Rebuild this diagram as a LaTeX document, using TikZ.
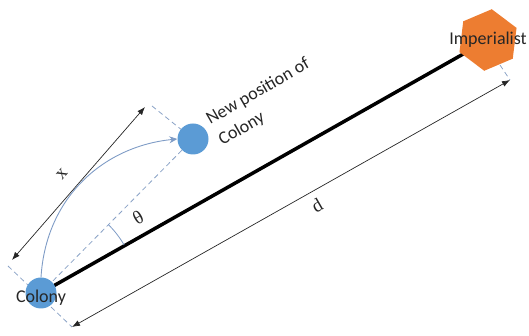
\documentclass[tikz,border=0pt]{standalone}
\usepackage{fontspec}
\setmainfont{Carlito}
\newfontfamily\serifl{Liberation Serif}
\usetikzlibrary{shapes.geometric,arrows.meta}
\definecolor{cblue}{HTML}{5B9BD5}
\definecolor{corange}{HTML}{ED7D31}
\definecolor{cdash}{HTML}{8AA2C6}
\definecolor{ccurve}{HTML}{7F9CC6}
\definecolor{ctext}{HTML}{262626}
\tikzset{
  dot/.style={circle,fill=cblue,minimum size=31pt,inner sep=0pt},
  hexa/.style={regular polygon,regular polygon sides=6,fill=corange,minimum size=62pt,inner sep=0pt},
  dashline/.style={draw=cdash,line width=0.8pt,dash pattern=on 5pt off 3.5pt},
  dimarrow/.style={draw=black!85,line width=0.7pt,{Latex[length=8pt,width=6pt]}-{Latex[length=8pt,width=6pt]}},
  lab/.style={text=ctext,font=\fontsize{18}{24}\selectfont,inner sep=0pt},
  sym/.style={text=ctext,font=\serifl\fontsize{19}{21}\selectfont,inner sep=0pt},
}
\begin{document}
\begin{tikzpicture}[x=1pt,y=1pt]
\useasboundingbox (0,0) rectangle (529,336);
% anchor points
\coordinate (C0) at (41,43);
\coordinate (N0) at (193,197);
\coordinate (H0) at (488,296);
\coordinate (xa) at (12,76);
\coordinate (xb) at (145,229);
\coordinate (da) at (72,9);
\coordinate (db) at (510,256);
\coordinate (pc1) at (8,70);
\coordinate (pn1) at (152,230);
\coordinate (ph1) at (500,271);
% dashed guides
\draw[dashline] (pc1) -- (da);
\draw[dashline] (pn1) -- (N0);
\draw[dashline] (C0) -- (N0);
\draw[dashline] (ph1) -- (db);
% thick line colony -> imperialist
\draw[line width=3.5pt] (C0) -- (H0);
% dimension arrows
\draw[dimarrow] (xa) -- (xb);
\draw[dimarrow] (da) -- (db);
% angle arc
\draw[ccurve,line width=0.8pt] (C0) ++(30:96) arc (30:45.5:96);
% nodes
\node[dot] (C) at (C0) {};
\node[dot] (N) at (N0) {};
\node[hexa,rotate=23] (H) at (H0) {};
% curved move arrow
\draw[ccurve,line width=0.9pt,-{Stealth[length=8pt,width=7pt]}] (C.north) .. controls (46,140) and (105,190) .. (N.west);
% labels
\node[lab] (lc) at (41,38) {Colony};
\node[lab] (li) at (488,296) {Imperialist};
\node[lab,rotate=30,anchor=north west,align=left] (ln) at (204,222) {New position of\\Colony};
\node[sym,rotate=30] (lt) at (138,118) {θ};
\node[sym,rotate=49] (lx) at (62,162) {x};
\node[sym,rotate=30] (ld) at (317,130) {d};
\end{tikzpicture}
\end{document}
